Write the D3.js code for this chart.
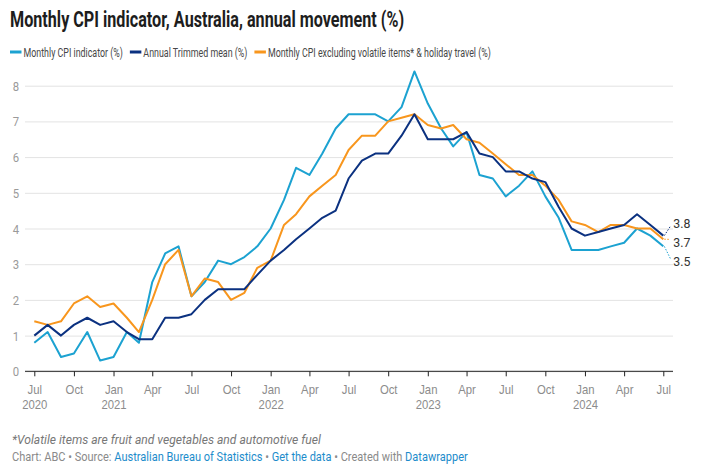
<!DOCTYPE html>
<html>
<head>
<meta charset="utf-8">
<script src="https://cdn.jsdelivr.net/npm/d3@7"></script>
<style>
  html, body { margin: 0; padding: 0; background: #fff; }
  svg { display: block; font-family: Roboto, "Noto Sans", sans-serif; }
</style>
</head>
<body>
<svg id="chart"></svg>
<script>
// Data: annual movement (%), monthly from Jul 2020 to Jul 2024
const START_MONTH = new Date(2020, 6, 1);
const END_MONTH = new Date(2024, 6, 1);

const monthlyCpi = [
  0.8, 1.1, 0.4, 0.5, 1.1, 0.3,
  0.4, 1.1, 0.8, 2.5, 3.3, 3.5, 2.1, 2.5, 3.1, 3.0, 3.2, 3.5,
  4.0, 4.8, 5.7, 5.5, 6.1, 6.8, 7.2, 7.2, 7.2, 7.0, 7.4, 8.4,
  7.5, 6.8, 6.3, 6.7, 5.5, 5.4, 4.9, 5.2, 5.6, 4.9, 4.3, 3.4,
  3.4, 3.4, 3.5, 3.6, 4.0, 3.8, 3.5,
];
const trimmedMean = [
  1.0, 1.3, 1.0, 1.3, 1.5, 1.3,
  1.4, 1.1, 0.9, 0.9, 1.5, 1.5, 1.6, 2.0, 2.3, 2.3, 2.3, 2.7,
  3.1, 3.4, 3.7, 4.0, 4.3, 4.5, 5.4, 5.9, 6.1, 6.1, 6.6, 7.2,
  6.5, 6.5, 6.5, 6.7, 6.1, 6.0, 5.6, 5.6, 5.4, 5.3, 4.6, 4.0,
  3.8, 3.9, 4.0, 4.1, 4.4, 4.1, 3.8,
];
const exVolatile = [
  1.4, 1.3, 1.4, 1.9, 2.1, 1.8,
  1.9, 1.5, 1.1, 2.0, 3.0, 3.4, 2.1, 2.6, 2.5, 2.0, 2.2, 2.9,
  3.1, 4.1, 4.4, 4.9, 5.2, 5.5, 6.2, 6.6, 6.6, 7.0, 7.1, 7.2,
  6.9, 6.8, 6.9, 6.5, 6.4, 6.1, 5.8, 5.5, 5.5, 5.2, 4.8, 4.2,
  4.1, 3.9, 4.1, 4.1, 4.0, 4.0, 3.7,
];

const seriesNames = [
  "Monthly CPI indicator (%)",
  "Annual Trimmed mean (%)",
  "Monthly CPI excluding volatile items* & holiday travel (%)",
];
const seriesColors = ["#1ca2d1", "#0b3180", "#f8961d"];
const seriesValues = [monthlyCpi, trimmedMean, exVolatile];

const yTicks = [0, 1, 2, 3, 4, 5, 6, 7, 8];

const TITLE = "Monthly CPI indicator, Australia, annual movement (%)";
const NOTE = "*Volatile items are fruit and vegetables and automotive fuel";
const SOURCE_PARTS = [
  ["Chart: ABC • Source: ", false],
  ["Australian Bureau of Statistics", true],
  [" • ", false],
  ["Get the data", true],
  [" • Created with ", false],
  ["Datawrapper", true],
];

// Sizes
const svgWidth = 710;
const svgHeight = 473;
const plotLeft = 25;
const plotRight = 673;

// horizontal squeeze per kind of text (reference fonts are narrow)
const SX_HEAD = 0.735;
const SX_LEGEND = 0.71;
const SX_AXIS = 0.87;
const SX_LABEL = 0.95;
const SX_NOTE = 0.97;
const SX_SOURCE = 0.92;

const months = d3.timeMonth.range(START_MONTH, d3.timeMonth.offset(END_MONTH, 1));

const svg = d3.select("#chart").attr("width", svgWidth).attr("height", svgHeight);

// place a horizontally-condensed text at x,y
function addText(parent, x, y, str, sx) {
  return parent
    .append("text")
    .attr("transform", `translate(${x},${y}) scale(${sx},1)`)
    .text(str);
}

// Scales
const x = d3.scaleTime().domain([START_MONTH, END_MONTH]).range([34.3, 663.3]);
const y = d3.scaleLinear().domain([0, 8]).range([371.3, 85.7]);

// Title
addText(svg, 10, 27, TITLE, SX_HEAD)
  .attr("font-size", 22)
  .attr("font-weight", 700)
  .attr("fill", "#1d1d1d");

// Legend
let legendX = 10;
seriesNames.forEach((name, i) => {
  svg
    .append("line")
    .attr("x1", legendX)
    .attr("x2", legendX + 11.5)
    .attr("y1", 52)
    .attr("y2", 52)
    .attr("stroke", seriesColors[i])
    .attr("stroke-width", 3);
  const t = addText(svg, legendX + 13.5, 56.5, name, SX_LEGEND)
    .attr("font-size", 12.5)
    .attr("fill", "#474747");
  legendX += 13.5 + t.node().getComputedTextLength() * SX_LEGEND + 7;
});

// Y gridlines and labels
const yAxis = svg
  .append("g")
  .attr("transform", `translate(${plotLeft},0)`)
  .call(
    d3.axisLeft(y).tickValues(yTicks).tickSize(-(plotRight - plotLeft)).tickPadding(0)
  );
yAxis.select(".domain").remove();
yAxis.selectAll(".tick line").attr("stroke", "#e3e3e3");
yAxis
  .selectAll(".tick text")
  .attr("x", 0)
  .attr("dy", "0.35em")
  .attr("transform", `translate(-6,0) scale(${SX_AXIS},1)`)
  .attr("font-size", 13)
  .attr("font-family", "Roboto")
  .attr("fill", "#9a9a9a");

// X axis
const tickDates = d3.timeMonth.every(3).range(START_MONTH, d3.timeMonth.offset(END_MONTH, 1));
const xAxis = svg
  .append("g")
  .attr("transform", `translate(0,${y(0)})`)
  .call(d3.axisBottom(x).tickValues(tickDates).tickSize(5).tickFormat(""));
xAxis.select(".domain").remove();
xAxis.selectAll(".tick line").attr("stroke", "#222");
xAxis
  .append("line")
  .attr("x1", plotLeft)
  .attr("x2", plotRight)
  .attr("stroke", "#222");

xAxis.selectAll(".tick").each(function (d, i) {
  const g = d3.select(this);
  addText(g, 0, 23, d3.timeFormat("%b")(d), SX_AXIS)
    .attr("text-anchor", "middle")
    .attr("font-size", 13)
    .attr("fill", "#8c8c8c");
  if (i === 0 || d.getMonth() === 0) {
    addText(g, 0, 38, d3.timeFormat("%Y")(d), SX_AXIS)
      .attr("text-anchor", "middle")
      .attr("font-size", 13)
      .attr("fill", "#8c8c8c");
  }
});

// Lines
const line = d3
  .line()
  .x((d, i) => x(months[i]))
  .y((d) => y(d));

const drawOrder = [0, 2, 1];
drawOrder.forEach((k) => {
  svg
    .append("path")
    .datum(seriesValues[k])
    .attr("fill", "none")
    .attr("stroke", seriesColors[k])
    .attr("stroke-width", 2)
    .attr("stroke-linejoin", "round")
    .attr("d", line);
});

// End labels, spread apart so they do not overlap
const LABEL_GAP = 19;
const last = months.length - 1;
const ends = seriesValues
  .map((vals, k) => ({ k, v: vals[last], y0: y(vals[last]) }))
  .sort((a, b) => a.y0 - b.y0);
const mean = d3.mean(ends, (d) => d.y0) + 2;
ends.forEach((d, i) => {
  d.ly = mean + (i - (ends.length - 1) / 2) * LABEL_GAP;
});

const endX = x(months[last]);
ends.forEach((d) => {
  svg
    .append("line")
    .attr("x1", endX + 1)
    .attr("y1", d.y0)
    .attr("x2", endX + 7)
    .attr("y2", d.ly + (d.ly < d.y0 ? 3 : -3))
    .attr("stroke", seriesColors[d.k])
    .attr("stroke-width", 1)
    .attr("stroke-dasharray", "1.5,1.5");
  addText(svg, endX + 10, d.ly + 4.5, d3.format(".1f")(d.v), SX_LABEL)
    .attr("font-size", 13)
    .attr("fill", "#333");
});

// Notes
addText(svg, 12, 443.5, NOTE, SX_NOTE)
  .attr("font-size", 12.5)
  .attr("font-style", "italic")
  .attr("fill", "#777");

const source = addText(svg, 12, 461, null, SX_SOURCE)
  .attr("font-size", 12)
  .attr("fill", "#8a8a8a");
SOURCE_PARTS.forEach(([str, isLink]) => {
  source
    .append("tspan")
    .attr("fill", isLink ? "#1d8ccb" : "#8a8a8a")
    .text(str);
});
</script>
</body>
</html>
